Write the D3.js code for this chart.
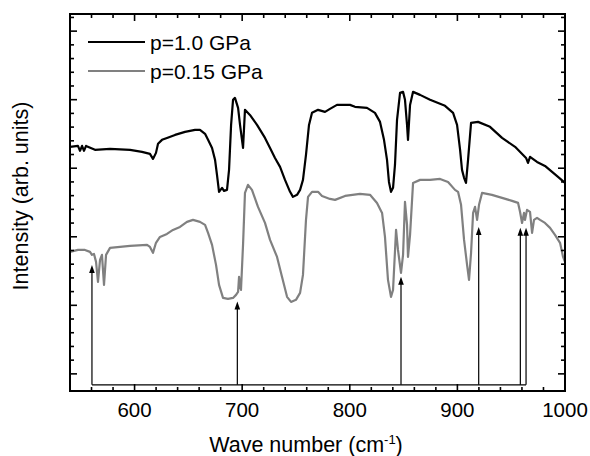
<!DOCTYPE html>
<html>
<head>
<meta charset="utf-8">
<script src="https://cdn.jsdelivr.net/npm/d3@7"></script>
<style>
  body { margin: 0; background: #fff; }
  text { font-family: "Liberation Sans", Arial, sans-serif; fill: #000; }
</style>
</head>
<body>
<div id="chart"></div>
<script>
// series: [wave number, intensity]
const highP = [
  [540,16.56],[547.4,16.63],[549.3,16.27],[551.2,16.63],[553.0,16.27],[554.9,16.63],
  [563.2,16.34],[577.2,16.41],[595.8,16.34],[606.9,16.19],[614.3,16.05],[617.1,15.68],
  [619.9,16.12],[621.8,16.78],[625.5,17.07],[630.1,17.21],[637.6,17.43],[646.9,17.65],
  [656.2,17.80],[660.8,17.80],[665.5,17.51],[668.3,17.07],[672.0,16.48],[674.8,15.61],
  [676.6,14.51],[678.5,13.28],[681.3,13.57],[683.1,13.35],[685.9,13.42],[687.8,14.88],
  [689.7,18.16],[691.5,19.99],[693.3,20.13],[696.2,19.40],[698.0,18.16],[700.8,16.48],
  [702.6,19.26],[707.2,18.89],[713.8,18.16],[721.2,17.21],[725.9,16.48],[730.5,15.75],
  [735.2,15.10],[739.8,14.15],[744.5,13.28],[747.2,12.91],[751.0,13.06],[753.8,13.42],
  [756.5,14.15],[759.3,15.97],[762.1,18.16],[764.9,19.04],[770.5,19.26],[777.0,19.11],
  [781.6,19.33],[788.1,19.62],[800.2,19.62],[804.8,19.48],[816.0,19.40],[823.4,19.04],
  [828.1,18.38],[831.8,17.07],[834.6,15.61],[836.4,14.00],[838.3,13.28],[840.2,13.57],
  [842.0,15.24],[843.9,18.53],[846.7,20.50],[849.5,20.57],[851.3,19.99],[853.2,18.16],
  [854.1,17.07],[856.0,19.62],[858.8,20.57],[865.3,20.35],[874.6,19.99],[888.5,19.55],
  [896.0,19.04],[899.7,18.16],[902.5,16.34],[904.3,14.88],[906.2,14.30],[908.0,13.93],
  [909.9,15.61],[912.7,18.31],[919.2,18.38],[930.3,18.02],[941.5,17.21],[953.6,16.56],
  [963.8,15.75],[965.6,15.39],[967.5,15.83],[974.0,15.46],[981.4,15.17],[988.0,14.73],
  [993.5,14.37],[1000,13.93]
];
const lowP = [
  [540,8.90],[547.4,9.04],[553.9,9.04],[558.6,8.90],[560.4,8.68],[562.3,8.75],[564.2,8.17],
  [566.0,6.71],[567.9,8.32],[569.7,8.68],[571.6,6.49],[573.5,8.68],[577.2,9.19],[595.8,9.34],
  [611.6,9.41],[614.3,9.26],[617.1,8.83],[619.9,9.56],[623.6,9.99],[630.1,10.21],[635.7,10.50],
  [642.2,10.72],[648.7,11.09],[654.3,11.23],[660.8,11.09],[665.5,10.87],[668.3,10.28],
  [672.0,9.41],[675.7,7.95],[678.5,6.49],[682.2,5.54],[686.8,5.47],[691.5,5.54],[694.3,5.76],
  [696.2,5.98],[697.1,7.08],[698.0,6.42],[698.9,6.13],[700.8,9.41],[702.6,13.20],[705.4,13.79],
  [709.1,13.42],[714.7,12.18],[721.2,11.01],[725.9,9.77],[732.4,8.53],[737.0,7.08],[741.7,5.62],
  [745.4,5.25],[750.0,5.40],[753.8,5.91],[756.5,7.22],[759.3,11.23],[761.2,12.91],[764.9,13.28],
  [770.5,13.28],[774.2,12.98],[781.6,12.76],[786.3,12.69],[795.6,12.98],[809.5,13.13],
  [818.8,13.06],[825.3,12.47],[830.0,11.74],[832.7,9.99],[835.5,6.86],[838.3,5.62],[840.2,6.13],
  [843.0,10.50],[844.8,9.04],[847.6,7.37],[849.5,8.68],[851.3,12.55],[853.2,10.87],[854.1,8.53],
  [856.0,10.14],[858.8,13.93],[865.3,14.15],[874.6,14.15],[883.9,14.22],[891.3,14.00],
  [897.8,13.42],[900.6,13.28],[903.4,12.33],[906.2,9.77],[909.0,7.95],[910.8,6.86],[912.7,8.83],
  [914.6,11.74],[916.4,12.18],[918.3,11.23],[920.1,12.33],[922.9,13.20],[932.1,13.06],
  [941.5,12.84],[950.8,12.62],[956.4,12.47],[958.2,11.82],[960.1,11.01],[961.9,11.74],
  [962.8,11.23],[964.7,11.96],[967.5,11.82],[969.4,10.28],[971.2,11.23],[974.0,11.38],
  [976.8,11.23],[981.4,11.01],[986.1,10.65],[990.7,10.14],[995.4,9.56],[998.2,8.53],[1000,8.17]
];
// marked modes: position and arrow tip
const arrowX = [560.4, 695.5, 847.6, 919.8, 958.5, 963.8];
const arrowTip = [7.95, 5.27, 7.08, 10.72, 10.65, 10.65];
const arrowBase = -0.8;

const seriesLabels = ["p=1.0 GPa", "p=0.15 GPa"];
const seriesColors = ["#000", "#808080"];
const xTickLabels = [600, 700, 800, 900, 1000];

const width = 590, height = 456;
const margin = {top: 14, right: 25, bottom: 65, left: 70};

const x = d3.scaleLinear().domain([540, 1000]).range([margin.left, width - margin.right]);
const y = d3.scaleLinear().domain([-1.25, 26.25]).range([height - margin.bottom, margin.top]);

const svg = d3.select("#chart").append("svg")
  .attr("width", width).attr("height", height);

const line = d3.line().x(d => x(d[0])).y(d => y(d[1]));

// spectra
[highP, lowP].forEach((s, i) => {
  svg.append("path").datum(s)
    .attr("d", line)
    .attr("fill", "none")
    .attr("stroke", seriesColors[i])
    .attr("stroke-width", 2.2)
    .attr("stroke-linejoin", "round");
});

// arrows
svg.append("line")
  .attr("x1", x(arrowX[0])).attr("x2", x(arrowX[arrowX.length - 1]))
  .attr("y1", y(arrowBase)).attr("y2", y(arrowBase))
  .attr("stroke", "#000").attr("stroke-width", 1.2);
arrowX.forEach((a, i) => {
  const ax = x(a), ty = y(arrowTip[i]);
  svg.append("line")
    .attr("x1", ax).attr("x2", ax)
    .attr("y1", y(arrowBase)).attr("y2", ty + 6)
    .attr("stroke", "#000").attr("stroke-width", 1.2);
  svg.append("path")
    .attr("d", `M${ax},${ty} L${ax - 2.8},${ty + 8} L${ax + 2.8},${ty + 8} Z`)
    .attr("fill", "#000");
});

// frame
const x0 = x.range()[0], x1 = x.range()[1], y0 = y.range()[0], y1 = y.range()[1];
svg.append("rect")
  .attr("x", x0).attr("y", y1)
  .attr("width", x1 - x0).attr("height", y0 - y1)
  .attr("fill", "none").attr("stroke", "#000").attr("stroke-width", 2);

// x ticks (bottom & top, inward)
const xt = d3.range(560, 1000, 20);
xt.forEach(t => {
  const len = t % 100 === 0 ? 7 : 4;
  svg.append("line").attr("x1", x(t)).attr("x2", x(t))
    .attr("y1", y0).attr("y2", y0 - len).attr("stroke", "#000").attr("stroke-width", 1.6);
  svg.append("line").attr("x1", x(t)).attr("x2", x(t))
    .attr("y1", y1).attr("y2", y1 + len).attr("stroke", "#000").attr("stroke-width", 1.6);
});
xTickLabels.forEach(t => {
  svg.append("text")
    .attr("x", x(t)).attr("y", y0 + 26)
    .attr("text-anchor", "middle")
    .style("font-size", "20.5px")
    .text(t);
});

// y ticks (left & right, inward)
d3.range(0, 27).forEach(t => {
  const len = t % 5 === 0 ? 7 : 4;
  svg.append("line").attr("x1", x0).attr("x2", x0 + len)
    .attr("y1", y(t)).attr("y2", y(t)).attr("stroke", "#000").attr("stroke-width", 1.6);
  svg.append("line").attr("x1", x1).attr("x2", x1 - len)
    .attr("y1", y(t)).attr("y2", y(t)).attr("stroke", "#000").attr("stroke-width", 1.6);
});

// axis titles
const xl = svg.append("text")
  .attr("x", 306).attr("y", 452)
  .attr("text-anchor", "middle")
  .style("font-size", "21.5px");
xl.append("tspan").text("Wave number (cm");
xl.append("tspan").attr("dy", -8).style("font-size", "13px").text("-1");
xl.append("tspan").attr("dy", 8).text(")");

svg.append("text")
  .attr("transform", "translate(28,196) rotate(-90)")
  .attr("text-anchor", "middle")
  .style("font-size", "21.5px")
  .text("Intensity (arb. units)");

// legend
seriesLabels.forEach((lab, i) => {
  const ly = 42 + i * 29;
  svg.append("line")
    .attr("x1", 88).attr("x2", 145).attr("y1", ly).attr("y2", ly)
    .attr("stroke", seriesColors[i]).attr("stroke-width", 2.2);
  svg.append("text")
    .attr("x", 150).attr("y", ly + 8)
    .style("font-size", "21px")
    .text(lab);
});
</script>
</body>
</html>
